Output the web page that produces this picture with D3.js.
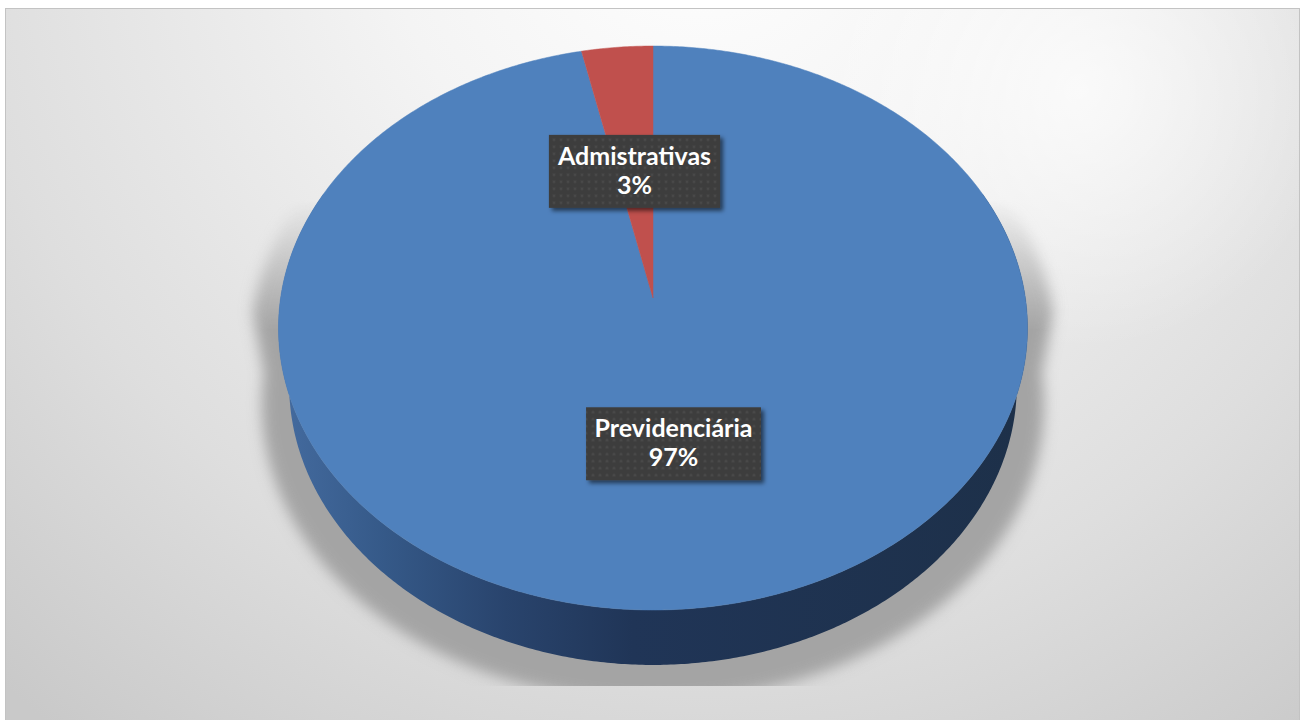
<!DOCTYPE html>
<html><head><meta charset="utf-8">
<script src="https://cdn.jsdelivr.net/npm/d3@7"></script>
<style>html,body{margin:0;padding:0;background:#fff;overflow:hidden}</style>
</head><body><svg id="chart" width="1308" height="720"></svg>
<script>
// ---- data ----
const categories = ["Previdenciária", "Admistrativas"];
const values = [96.6, 3.4];
const sliceColors = ["#4F81BD", "#C0504D"];

const W = 1308, H = 720;
const svg = d3.select("#chart");
const defs = svg.append("defs");

// background gradient
const bg = defs.append("radialGradient").attr("id","bg")
  .attr("gradientUnits","userSpaceOnUse").attr("cx",700).attr("cy",-100).attr("r",1050)
  .attr("fx",700).attr("fy",-100);
[[0,"#ffffff"],[0.3,"#f4f4f4"],[0.7,"#dedede"],[1,"#c9c9c9"]].forEach(s=>bg.append("stop").attr("offset",s[0]).attr("stop-color",s[1]));
const glow = defs.append("radialGradient").attr("id","glow")
  .attr("gradientUnits","userSpaceOnUse").attr("cx",1080).attr("cy",90).attr("r",260);
glow.append("stop").attr("offset",0).attr("stop-color","#fff").attr("stop-opacity",0.7);
glow.append("stop").attr("offset",1).attr("stop-color","#fff").attr("stop-opacity",0);

// wall gradient
const wg = defs.append("linearGradient").attr("id","wall").attr("gradientUnits","userSpaceOnUse")
  .attr("x1",280).attr("x2",1030).attr("y1",0).attr("y2",0);
[[0,"#446b9f"],[0.14,"#355988"],[0.3,"#29446d"],[0.47,"#203557"],[1,"#1d3049"]].forEach(s=>wg.append("stop").attr("offset",s[0]).attr("stop-color",s[1]));

// shadow filters
defs.append("filter").attr("id","blur").attr("x","-20%").attr("y","-20%").attr("width","140%").attr("height","140%")
  .append("feGaussianBlur").attr("stdDeviation",7);
const ds = defs.append("filter").attr("id","boxShadow").attr("x","-20%").attr("y","-20%").attr("width","140%").attr("height","150%");
ds.append("feDropShadow").attr("dx",3).attr("dy",3).attr("stdDeviation",2).attr("flood-color","#000").attr("flood-opacity",0.55);

// dotted pattern for label boxes
const pat = defs.append("pattern").attr("id","dots").attr("patternUnits","userSpaceOnUse").attr("width",7).attr("height",7);
pat.append("rect").attr("width",7).attr("height",7).attr("fill","#3d3d3d");
pat.append("circle").attr("cx",3.5).attr("cy",3.5).attr("r",1.3).attr("fill","#4b4b4b");

// shadow mask (fade at top)
const mg = defs.append("linearGradient").attr("id","fadeTop").attr("gradientUnits","userSpaceOnUse")
  .attr("x1",0).attr("x2",0).attr("y1",200).attr("y2",330);
mg.append("stop").attr("offset",0).attr("stop-color","#000");
mg.append("stop").attr("offset",1).attr("stop-color","#fff");
const mask = defs.append("mask").attr("id","shMask").attr("maskUnits","userSpaceOnUse")
  .attr("x",0).attr("y",0).attr("width",W).attr("height",H);
mask.append("rect").attr("x",0).attr("y",0).attr("width",W).attr("height",686).attr("fill","url(#fadeTop)");

// background + border
svg.append("rect").attr("x",5.5).attr("y",8.5).attr("width",1294).attr("height",720)
  .attr("fill","url(#bg)").attr("stroke","#c3c3c3").attr("stroke-width",1);
svg.append("rect").attr("x",6).attr("y",9).attr("width",1293).attr("height",711).attr("fill","url(#glow)");

// ---- 3D projection of the pie disc ----
const cam = {cx:653, cy:298, f:2320, D:6.23, sinA:0.7487, cosA:0.663, h:0.242};
function proj(theta, r, z){
  const u = r*Math.sin(theta), v = r*Math.cos(theta);
  const y3 = v*cam.sinA - z*cam.h*cam.cosA;
  const d = cam.D + v*cam.cosA + z*cam.h*cam.sinA;
  return [cam.cx + cam.f*u/d, cam.cy - cam.f*y3/d];
}
function arcPts(a0, a1, z){
  const n = Math.max(2, Math.ceil(Math.abs(a1-a0)/(Math.PI/360)));
  const step = d3.scaleLinear().domain([0,n]).range([a0,a1]);
  return d3.range(n+1).map(i=>proj(step(i),1,z));
}
const line = d3.line();

const pie = d3.pie().sort(null).value(d=>d.value).startAngle(0).endAngle(2*Math.PI);
const data = categories.map((c,i)=>({name:c, value:values[i], color:sliceColors[i]}));
const arcs = pie(data);
const total = d3.sum(values);

// shadow: silhouette of the cylinder, enlarged and blurred
const silTop = arcPts(-Math.PI/2, Math.PI/2, 0);
const silBot = arcPts(Math.PI/2, 3*Math.PI/2, 1);
const sx = d3.scaleLinear().domain([cam.cx-1, cam.cx+1]).range([cam.cx-1.075, cam.cx+1.075]);
const sy = d3.scaleLinear().domain([cam.cy-1, cam.cy+1]).range([cam.cy-1.06+14, cam.cy+1.06+14]);
const silhouette = silTop.concat(silBot).map(p=>[sx(p[0]), sy(p[1])]);
svg.append("g").attr("mask","url(#shMask)")
  .append("path").attr("d", line(silhouette)+"Z").attr("fill","#a4a4a4").attr("filter","url(#blur)");

// side walls (front half only)
const lo = Math.PI/2 - 0.4, hi = 3*Math.PI/2 + 0.4;
const wallG = svg.append("g");
arcs.forEach(a=>{
  const s = Math.max(a.startAngle, lo), e = Math.min(a.endAngle, hi);
  if (e <= s) return;
  const pts = arcPts(s, e, 0).concat(arcPts(e, s, 1));
  wallG.append("path").attr("d", line(pts)+"Z").attr("fill","url(#wall)");
});

// top faces
const topG = svg.append("g");
arcs.forEach(a=>{
  const pts = [proj(0,0,0)].concat(arcPts(a.startAngle, a.endAngle, 0));
  topG.append("path").attr("d", line(pts)+"Z").attr("fill", a.data.color)
    .attr("stroke", a.data.color).attr("stroke-width",0.5).attr("stroke-linejoin","round");
});

// labels
const labG = svg.append("g").attr("font-family","Lato, 'Open Sans', sans-serif")
  .attr("font-weight",700).attr("font-size",25).attr("fill","#fff");
arcs.forEach(a=>{
  const mid = (a.startAngle + a.endAngle)/2;
  const [lx, ly0] = proj(mid, 0.49, 0);
  const ly = ly0 + 2.5;
  const g = labG.append("g").attr("transform",`translate(${lx},${ly})`);
  const rect = g.append("rect");
  const t = g.append("text").attr("text-anchor","middle");
  t.append("tspan").attr("x",0).attr("y",-6.5).text(a.data.name);
  t.append("tspan").attr("x",0).attr("y",22.5).text(Math.round(a.data.value/total*100)+"%");
  const w = t.node().getBBox().width;
  const bw = w + 17, bh = 73;
  rect.attr("x",-bw/2).attr("y",-36.5).attr("width",bw).attr("height",bh)
    .attr("fill","url(#dots)").attr("filter","url(#boxShadow)");
});
</script>
</body></html>
